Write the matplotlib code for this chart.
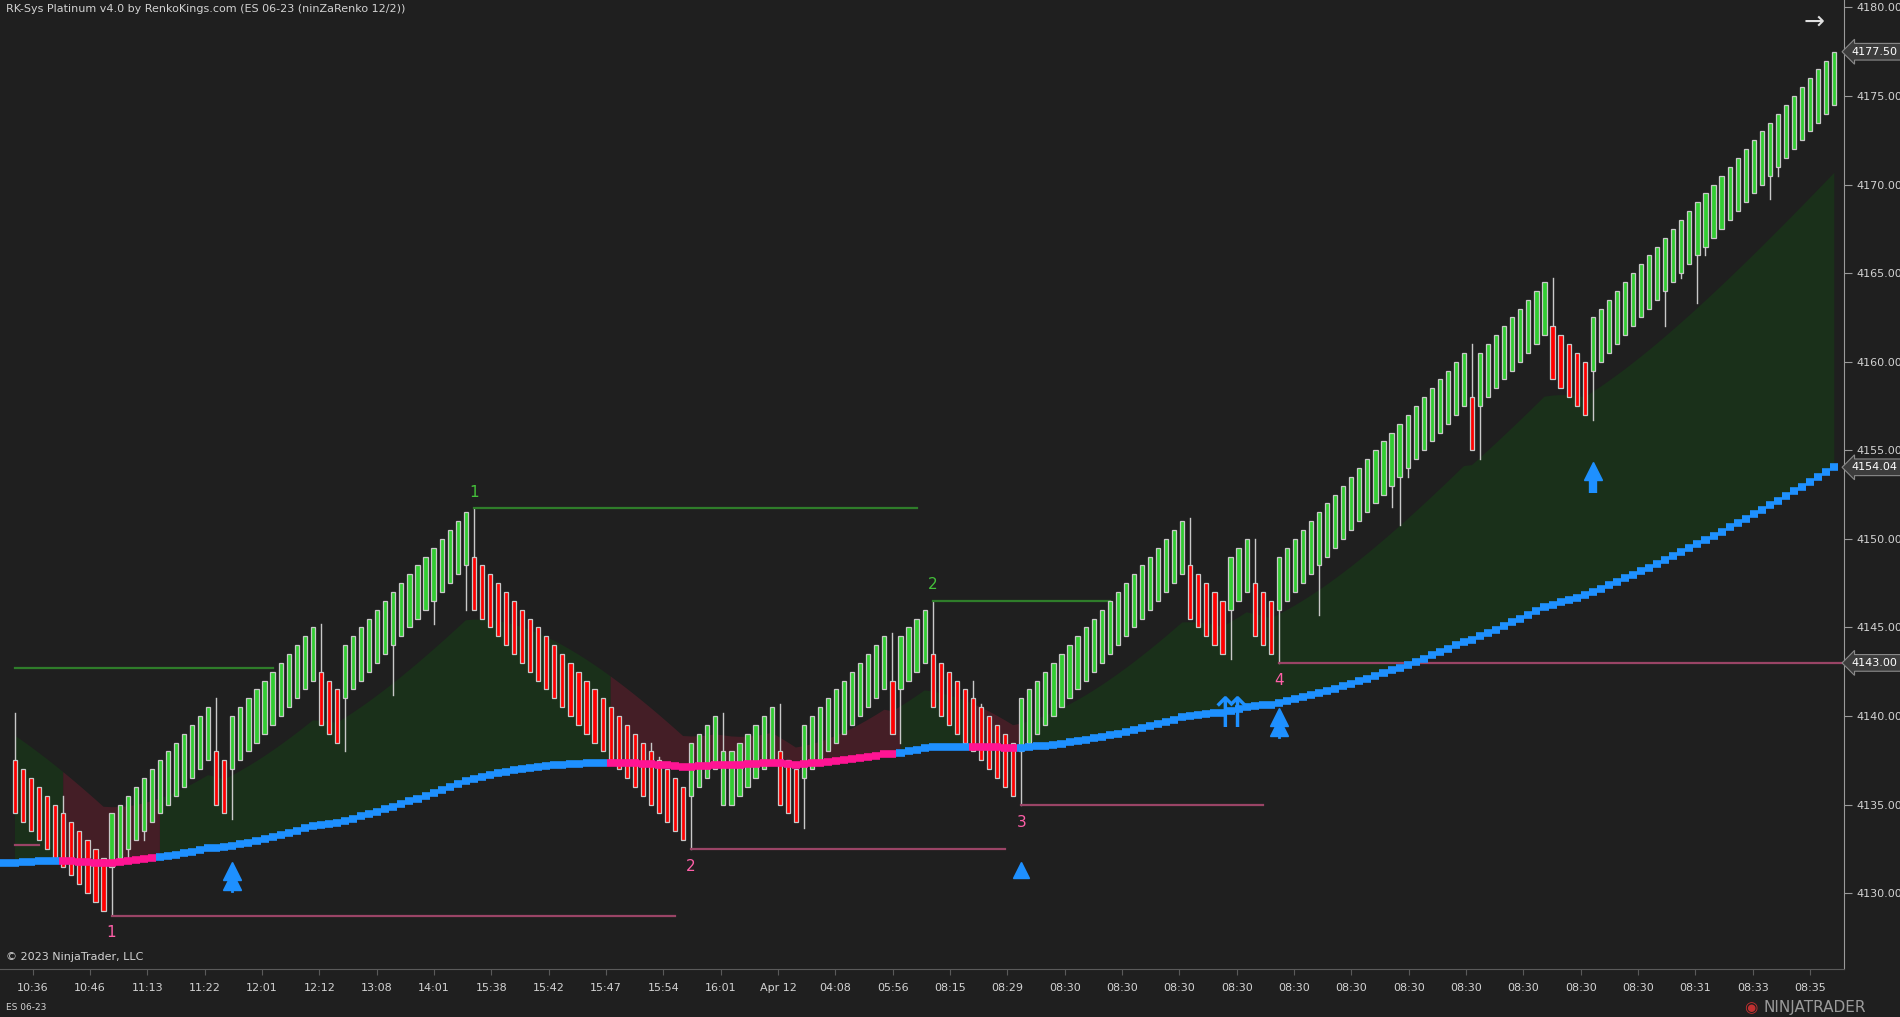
import numpy as np
import matplotlib.pyplot as plt
from matplotlib.transforms import blended_transform_factory

# renko runs: first close of each run, number of bricks, direction
run_first = [4134.5, 4134.5, 4135.0, 4140.0, 4139.5, 4144.0, 4146.0, 4138.5, 4138.0, 4138.0,
             4138.5, 4135.0, 4139.5, 4139.0, 4144.5, 4140.5, 4141.0, 4145.5, 4149.0, 4144.5,
             4149.0, 4155.0, 4160.5, 4159.0, 4162.5]
run_len = [12, 13, 2, 11, 3, 16, 27, 4, 1, 1, 5, 3, 11, 1, 4, 11, 21, 5, 3, 3, 24, 1, 9, 5, 31]
run_up = [0, 1, 0, 1, 0, 1, 0, 1, 1, 1, 1, 0, 1, 0, 1, 0, 1, 0, 1, 0, 1, 0, 1, 0, 1]

wick_bar = [0, 6, 12, 14, 16, 25, 27, 38, 41, 47, 52, 56, 57, 79, 80, 84, 88, 95, 98, 109, 110,
            114, 119, 120, 125, 146, 151, 154, 157, 162, 171, 172, 173, 181, 182, 191, 196, 205,
            207, 209, 210, 218, 219]
wick_price = [4140.2, 4135.5, 4128.75, 4132.0, 4133.0, 4141.0, 4134.2, 4145.2, 4138.0, 4141.2,
              4145.2, 4146.0, 4151.75, 4138.5, 4137.7, 4132.5, 4140.2, 4140.7, 4133.7, 4144.7,
              4138.5, 4146.5, 4142.0, 4140.7, 4135.0, 4151.2, 4143.2, 4150.0, 4143.0, 4145.7,
              4151.8, 4150.8, 4153.5, 4161.0, 4154.5, 4164.7, 4156.7, 4162.0, 4164.7, 4163.3,
              4166.0, 4169.2, 4170.5]

# bearish trend state (pink MA / maroon cloud), bar ranges
bear_start = [6, 74, 119]
bear_end = [17, 109, 124]

# swing levels
lvl_price = [4142.72, 4132.7, 4128.7, 4151.75, 4132.5, 4146.5, 4135.0, 4143.0]
lvl_start = [0, 0, 12, 57, 84, 114, 125, 157]
lvl_end = [32, 3, 82, 112, 123, 136, 155, 227]
lvl_high = [1, 0, 0, 1, 0, 1, 0, 0]
lvl_text = ['', '', '1', '1', '2', '2', '3', '4']
lvl_text_price = [0, 0, 4127.8, 4152.6, 4131.5, 4147.4, 4134.0, 4142.0]

sig_bar = [27, 125, 151, 157, 196]
sig_price = [4130.1, 4131.3, 4139.1, 4138.8, 4152.6]
sig_kind = ['double', 'triangle', 'thin', 'double', 'thick']

time_labels = ['10:36', '10:46', '11:13', '11:22', '12:01', '12:12', '13:08', '14:01', '15:38',
               '15:42', '15:47', '15:54', '16:01', 'Apr 12', '04:08', '05:56', '08:15', '08:29',
               '08:30', '08:30', '08:30', '08:30', '08:30', '08:30', '08:30', '08:30', '08:30',
               '08:30', '08:30', '08:31', '08:33', '08:35']

ma_seed, ma_period = 4131.7, 170
fast_seed, fast_period = 4139.2, 30

BG = '#1f1f1f'
GREEN = '#32cd32'
RED = '#ff0000'
BLUE = '#1e90ff'
PINK = '#ff1493'
TXT = '#d2d2d2'

# build bricks
opens, closes, ups = [], [], []
prev_c, prev_up = None, None
for first, n, up in zip(run_first, run_len, run_up):
    step = 0.5 if up else -0.5
    for k in range(n):
        c = first + step * k
        if prev_c is not None and up != prev_up:
            o = prev_c + (2.5 if up else -2.5)
        else:
            o = c - 3 if up else c + 3
        opens.append(o)
        closes.append(c)
        ups.append(up)
        prev_c, prev_up = c, up
opens = np.array(opens)
closes = np.array(closes)
N = len(closes)
x = np.arange(N)


def ema(vals, seed, period):
    a = 2.0 / (period + 1)
    out = []
    v = seed
    for c in vals:
        v = v + a * (c - v)
        out.append(v)
    return np.array(out)


ma = ema(closes, ma_seed, ma_period)
fast = ema(closes, fast_seed, fast_period)
bear = np.zeros(N, bool)
for s, e in zip(bear_start, bear_end):
    bear[s:e + 1] = True

fig = plt.figure(figsize=(19, 10.17), dpi=100, facecolor=BG)
ax = fig.add_axes([0, 0.047, 0.9705, 0.953], facecolor=BG)
ax.set_xlim(-1.86, 227.2)
ax.set_ylim(4125.71, 4180.42)

# cloud
bull_w = ~bear
bull_w[1:] |= ~bear[:-1]
bear_w = bear.copy()
bear_w[1:] |= bear[:-1]
ax.fill_between(x, fast, ma, where=bull_w, color='#1a301a', lw=0, zorder=1)
ax.fill_between(x, fast, ma, where=bear_w, color='#441e26', lw=0, zorder=1)

# wicks
for b, p in zip(wick_bar, wick_price):
    lo, hi = min(opens[b], closes[b]), max(opens[b], closes[b])
    end = hi if p > hi else lo
    ax.plot([b, b], [end, p], color='#c8c8c8', lw=1.0, zorder=2)

# bodies
cols = [GREEN if u else RED for u in ups]
ax.bar(x, closes - opens, bottom=opens, width=0.52, color=cols, edgecolor='#c8c8c8',
       linewidth=0.9, zorder=3)

# moving average as stepped squares
for i in range(N):
    ax.plot([i - 0.5, i + 0.5], [ma[i], ma[i]], color=PINK if bear[i] else BLUE,
            lw=5.5, solid_capstyle='butt', zorder=4)
ax.plot([-1.86, -0.5], [ma[0], ma[0]], color=BLUE, lw=5.5, solid_capstyle='butt', zorder=4)

# swing levels
for p, s, e, hi, t, tp in zip(lvl_price, lvl_start, lvl_end, lvl_high, lvl_text, lvl_text_price):
    lc = '#2f7d2a' if hi else '#9a4466'
    ax.plot([s, e], [p, p], color=lc, lw=1.6, zorder=2)
    if t:
        ax.text(s, tp, t, color='#44c03a' if hi else '#ff5fa8', fontsize=11,
                ha='center', va='center', zorder=5)

# signals
for b, p, k in zip(sig_bar, sig_price, sig_kind):
    if k == 'double':
        ax.plot([b, b], [p, p + 0.8], color=BLUE, lw=2, zorder=5)
        ax.plot([b, b], [p + 0.6, p + 1.15], marker='^', ls='none', ms=13, color=BLUE, zorder=5)
    elif k == 'triangle':
        ax.plot([b], [p], marker='^', ms=11, color=BLUE, zorder=5)
    elif k == 'thin':
        ax.text(b, p - 0.2, '\u21c8', color=BLUE, fontsize=30, ha='center', va='bottom', zorder=5)
    else:
        ax.plot([b, b], [p, p + 1.1], color=BLUE, lw=6, solid_capstyle='butt', zorder=5)
        ax.plot([b], [p + 1.25], marker='^', ms=13, color=BLUE, zorder=5)

# axes styling
for s in ['top', 'left']:
    ax.spines[s].set_visible(False)
ax.spines['right'].set_color('#9a9a9a')
ax.spines['bottom'].set_color('#5a5a5a')
ax.yaxis.tick_right()
ax.set_yticks(np.arange(4130, 4181, 5))
ax.yaxis.set_major_formatter(plt.FuncFormatter(lambda v, _: f'{v:.2f}'))
ax.tick_params(axis='y', colors='#9a9a9a', labelcolor=TXT, labelsize=8, length=6, pad=3)
ax.set_xticks(np.linspace(2.2, 223, len(time_labels)))
ax.set_xticklabels(time_labels)
ax.tick_params(axis='x', colors='#5a5a5a', labelcolor=TXT, labelsize=8, length=4, pad=6)

tr = blended_transform_factory(ax.transAxes, ax.transData)
for p in [closes[-1], ma[-1], lvl_price[-1]]:
    ax.text(1.004, p, f'{p:.2f}', transform=tr, color='white', fontsize=8, va='center', ha='left',
            bbox=dict(boxstyle='larrow,pad=0.3', fc='#3c3c3c', ec='#8a8a8a', lw=0.8), zorder=6)

fig.text(0.003, 0.991, 'RK-Sys Platinum v4.0 by RenkoKings.com (ES 06-23 (ninZaRenko 12/2))',
         color=TXT, fontsize=8, va='center')
fig.text(0.003, 0.059, '\u00a9 2023 NinjaTrader, LLC', color=TXT, fontsize=8, va='center')
fig.text(0.003, 0.009, 'ES 06-23', color=TXT, fontsize=6.5, va='center')
fig.text(0.955, 0.979, '\u2192', color='#e0e0e0', fontsize=18, ha='center', va='center')
fig.text(0.918, 0.009, '\u25c9', color='#c03030', fontsize=11, va='center')
fig.text(0.928, 0.009, 'NINJATRADER', color='#9a9a9a', fontsize=11, va='center')

fig.savefig('out.png', dpi=100, facecolor=BG)
